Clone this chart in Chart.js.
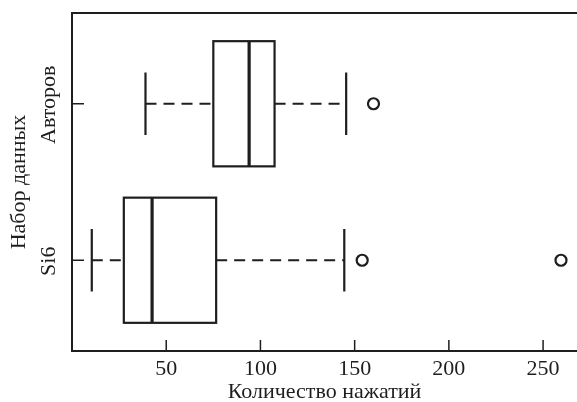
<!DOCTYPE html>
<html lang="ru">
<head>
  <meta charset="UTF-8">
  <title>Boxplot - Количество нажатий</title>
  <style>
    html, body { margin: 0; padding: 0; background: #ffffff; overflow: hidden; }
    .chart-box { width: 577px; height: 402px; }
  </style>
</head>
<body>
  <div class="chart-box">
    <canvas id="boxChart" width="577" height="402"></canvas>
  </div>

  <script src="https://cdn.jsdelivr.net/npm/chart.js"></script>
  <script>
    // Data (positions 1 = Si6, 2 = Авторов)
    const groups = ['Si6', 'Авторов'];
    const groupPos = [1, 2];
    const whiskerLow = [10.5, 39];
    const q1 = [27.5, 75];
    const median = [42.5, 94];
    const q3 = [76.5, 107.5];
    const whiskerHigh = [144.5, 145.5];
    const outliers = [[154, 259.5], [160]];
    const xTicks = [50, 100, 150, 200, 250];

    const ink = '#1e1e1e';
    const serif = "'Liberation Serif', 'DejaVu Serif', serif";

    // outlier points for the scatter dataset
    const outlierPoints = [];
    outliers.forEach((vals, i) => {
      vals.forEach(v => outlierPoints.push({ x: v, y: groupPos[i] }));
    });

    // draws boxes, whiskers, frame, inward ticks and group labels
    const boxPlugin = {
      id: 'boxPlugin',
      afterDatasetsDraw(chart) {
        const ctx = chart.ctx;
        const xs = chart.scales.x;
        const ys = chart.scales.y;
        const area = chart.chartArea;
        ctx.save();
        ctx.strokeStyle = ink;

        groups.forEach((g, i) => {
          const yc = ys.getPixelForValue(groupPos[i]);
          const yTop = ys.getPixelForValue(groupPos[i] + 0.4);
          const yBot = ys.getPixelForValue(groupPos[i] - 0.4);
          const cTop = ys.getPixelForValue(groupPos[i] + 0.2);
          const cBot = ys.getPixelForValue(groupPos[i] - 0.2);
          const xwl = xs.getPixelForValue(whiskerLow[i]);
          const xq1 = xs.getPixelForValue(q1[i]);
          const xmd = xs.getPixelForValue(median[i]);
          const xq3 = xs.getPixelForValue(q3[i]);
          const xwh = xs.getPixelForValue(whiskerHigh[i]);

          // dashed whiskers
          ctx.lineWidth = 2.2;
          ctx.setLineDash([11, 7]);
          ctx.beginPath();
          ctx.moveTo(xwl, yc); ctx.lineTo(xq1, yc);
          ctx.moveTo(xq3, yc); ctx.lineTo(xwh, yc);
          ctx.stroke();
          ctx.setLineDash([]);

          // caps
          ctx.beginPath();
          ctx.moveTo(xwl, cTop); ctx.lineTo(xwl, cBot);
          ctx.moveTo(xwh, cTop); ctx.lineTo(xwh, cBot);
          ctx.stroke();

          // box
          ctx.fillStyle = '#ffffff';
          ctx.fillRect(xq1, yTop, xq3 - xq1, yBot - yTop);
          ctx.strokeRect(xq1, yTop, xq3 - xq1, yBot - yTop);

          // median
          ctx.lineWidth = 3.2;
          ctx.beginPath();
          ctx.moveTo(xmd, yTop); ctx.lineTo(xmd, yBot);
          ctx.stroke();

          // group label, rotated
          ctx.save();
          ctx.fillStyle = ink;
          ctx.font = '22px ' + serif;
          ctx.textAlign = 'center';
          ctx.textBaseline = 'middle';
          ctx.translate(49, yc + 1);
          ctx.rotate(-Math.PI / 2);
          ctx.fillText(g, 0, 0);
          ctx.restore();

          // inward y tick
          ctx.lineWidth = 1.5;
          ctx.beginPath();
          ctx.moveTo(area.left, yc); ctx.lineTo(area.left + 12, yc);
          ctx.stroke();
        });

        // inward x ticks
        ctx.lineWidth = 1.5;
        xTicks.forEach(v => {
          const px = xs.getPixelForValue(v);
          ctx.beginPath();
          ctx.moveTo(px, area.bottom); ctx.lineTo(px, area.bottom - 11);
          ctx.stroke();
        });

        // frame (right side falls off the canvas)
        ctx.lineWidth = 2;
        ctx.beginPath();
        ctx.moveTo(area.right + 5, area.top);
        ctx.lineTo(area.left, area.top);
        ctx.lineTo(area.left, area.bottom);
        ctx.lineTo(area.right + 5, area.bottom);
        ctx.stroke();
        ctx.restore();
      }
    };

    new Chart(document.getElementById('boxChart'), {
      type: 'scatter',
      data: {
        datasets: [{
          label: 'Выбросы',
          data: outlierPoints,
          pointStyle: 'circle',
          pointRadius: 5.5,
          pointBorderWidth: 2.2,
          borderColor: ink,
          backgroundColor: 'rgba(0,0,0,0)'
        }]
      },
      options: {
        responsive: false,
        animation: false,
        layout: { autoPadding: false, padding: { top: 13, right: 0, bottom: 0, left: 0 } },
        plugins: {
          legend: { display: false },
          tooltip: { enabled: false }
        },
        scales: {
          x: {
            type: 'linear',
            min: 0,
            max: 268,
            afterBuildTicks: scale => { scale.ticks = xTicks.map(v => ({ value: v })); },
            afterFit: scale => {
              scale.height = 51;
              scale.paddingLeft = 0;
              scale.paddingRight = 0;
            },
            grid: { display: false, drawTicks: false },
            border: { display: false },
            ticks: {
              color: ink,
              font: { family: serif, size: 22 },
              padding: 5,
              maxRotation: 0
            },
            title: {
              display: true,
              text: 'Количество нажатий',
              color: ink,
              font: { family: serif, size: 22 },
              padding: { top: 0, bottom: -3 }
            }
          },
          y: {
            type: 'linear',
            min: 0.42,
            max: 2.58,
            afterFit: scale => { scale.width = 72; },
            grid: { display: false, drawTicks: false },
            border: { display: false },
            ticks: { display: false },
            title: {
              display: true,
              text: 'Набор данных',
              color: ink,
              font: { family: serif, size: 22 },
              padding: { top: 6, bottom: 0 }
            }
          }
        }
      },
      plugins: [boxPlugin]
    });
  </script>
</body>
</html>
